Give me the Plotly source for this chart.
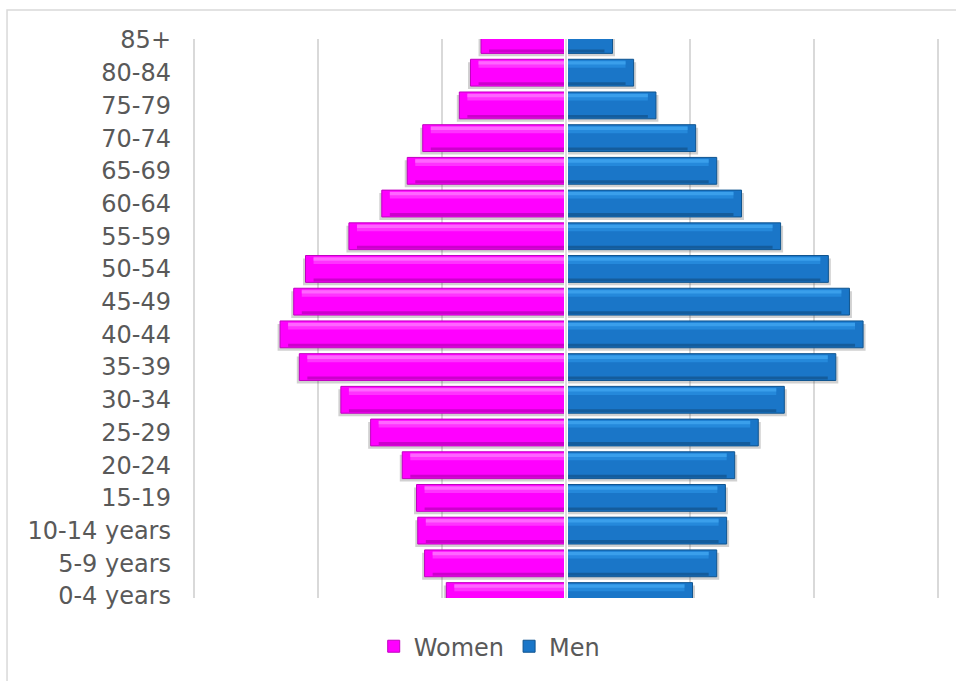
import plotly.graph_objects as go

# Age groups, bottom to top
age_groups = ["0-4 years", "5-9 years", "10-14 years", "15-19", "20-24", "25-29",
              "30-34", "35-39", "40-44", "45-49", "50-54", "55-59", "60-64",
              "65-69", "70-74", "75-79", "80-84", "85+"]

# Share of the total population (%), same order as age_groups
women = [1.93, 2.28, 2.39, 2.41, 2.64, 3.15, 3.63, 4.30, 4.61, 4.39, 4.20, 3.50,
         2.97, 2.56, 2.31, 1.72, 1.54, 1.37]
men = [2.04, 2.43, 2.59, 2.57, 2.72, 3.10, 3.52, 4.35, 4.79, 4.57, 4.23, 3.46,
       2.83, 2.43, 2.09, 1.45, 1.09, 0.75]

grid_ticks = [-6, -4, -2, 0, 2, 4, 6]

TEXT = "#595959"
FONT = "DejaVu Sans, Verdana, sans-serif"

BAR_W = 0.82          # bar thickness in category units
BEVEL = 0.13          # inset of the shading strips at the bar end

styles = {
    "Women": dict(main="#FF00FF", light1="#FF33FF", light2="#FF66FF",
                  dark="#CC00CC", edge="#C000C0", sign=-1),
    "Men": dict(main="#1A76C8", light1="#2589DB", light2="#3A9FEB",
                dark="#145C9C", edge="#0F548F", sign=1),
}

fig = go.Figure()

for name, vals in (("Women", women), ("Men", men)):
    st = styles[name]
    s = st["sign"]
    signed = [s * v for v in vals]
    inset = [s * max(v - BEVEL, 0) for v in vals]

    # drop shadow
    fig.add_trace(go.Bar(
        y=age_groups, x=[s * (v + 0.04) for v in vals], orientation="h",
        width=BAR_W, offset=-BAR_W / 2 - 0.09,
        marker=dict(color="rgba(70,70,70,0.25)", line=dict(width=0)),
        showlegend=False, hoverinfo="skip"))
    # main bar
    fig.add_trace(go.Bar(
        y=age_groups, x=signed, orientation="h", name=name,
        width=BAR_W, offset=-BAR_W / 2,
        marker=dict(color=st["main"], line=dict(color=st["edge"], width=1)),
        hovertemplate="%{y}: %{x}<extra>" + name + "</extra>"))
    # upper highlight, two soft steps
    fig.add_trace(go.Bar(
        y=age_groups, x=inset, orientation="h",
        width=0.22, offset=BAR_W / 2 - 0.26,
        marker=dict(color=st["light1"], line=dict(width=0)),
        showlegend=False, hoverinfo="skip"))
    fig.add_trace(go.Bar(
        y=age_groups, x=inset, orientation="h",
        width=0.1, offset=BAR_W / 2 - 0.16,
        marker=dict(color=st["light2"], line=dict(width=0)),
        showlegend=False, hoverinfo="skip"))
    # lower shade
    fig.add_trace(go.Bar(
        y=age_groups, x=inset, orientation="h",
        width=0.09, offset=-BAR_W / 2 + 0.03,
        marker=dict(color=st["dark"], line=dict(width=0)),
        showlegend=False, hoverinfo="skip"))

fig.update_layout(
    width=956, height=681,
    barmode="overlay",
    paper_bgcolor="white", plot_bgcolor="white",
    margin=dict(l=192, r=16, t=39, b=81),
    font=dict(family=FONT, color=TEXT, size=24),
    xaxis=dict(range=[-6.03, 6.03], tickvals=grid_ticks, showticklabels=False,
               showgrid=True, gridcolor="#D9D9D9", gridwidth=1.5,
               zeroline=False, showline=False, ticks=""),
    yaxis=dict(type="category", categoryorder="array", categoryarray=age_groups,
               range=[-0.06, 17.03], showgrid=False, zeroline=False,
               showline=False, ticks="", ticklabelstandoff=20,
               tickfont=dict(family=FONT, color=TEXT, size=24)),
    legend=dict(orientation="h", x=0.398, xanchor="center", y=-0.087,
                yanchor="middle", font=dict(family=FONT, color=TEXT, size=24),
                traceorder="normal", itemwidth=30),
    shapes=[
        # centre axis line drawn over the bars
        dict(type="line", xref="x", yref="paper", x0=0, x1=0, y0=0, y1=1,
             line=dict(color="white", width=4), layer="above"),
        dict(type="line", xref="x", yref="paper", x0=0, x1=0, y0=0, y1=1,
             line=dict(color="#D4D4D4", width=1.5), layer="above"),
        # chart border
        dict(type="rect", xref="paper", yref="paper", x0=-0.2473, x1=1.1,
             y0=-0.3, y1=1.0517, line=dict(color="#D9D9D9", width=1.5),
             layer="below"),
    ],
    showlegend=True,
)

fig.write_html("out.html")
